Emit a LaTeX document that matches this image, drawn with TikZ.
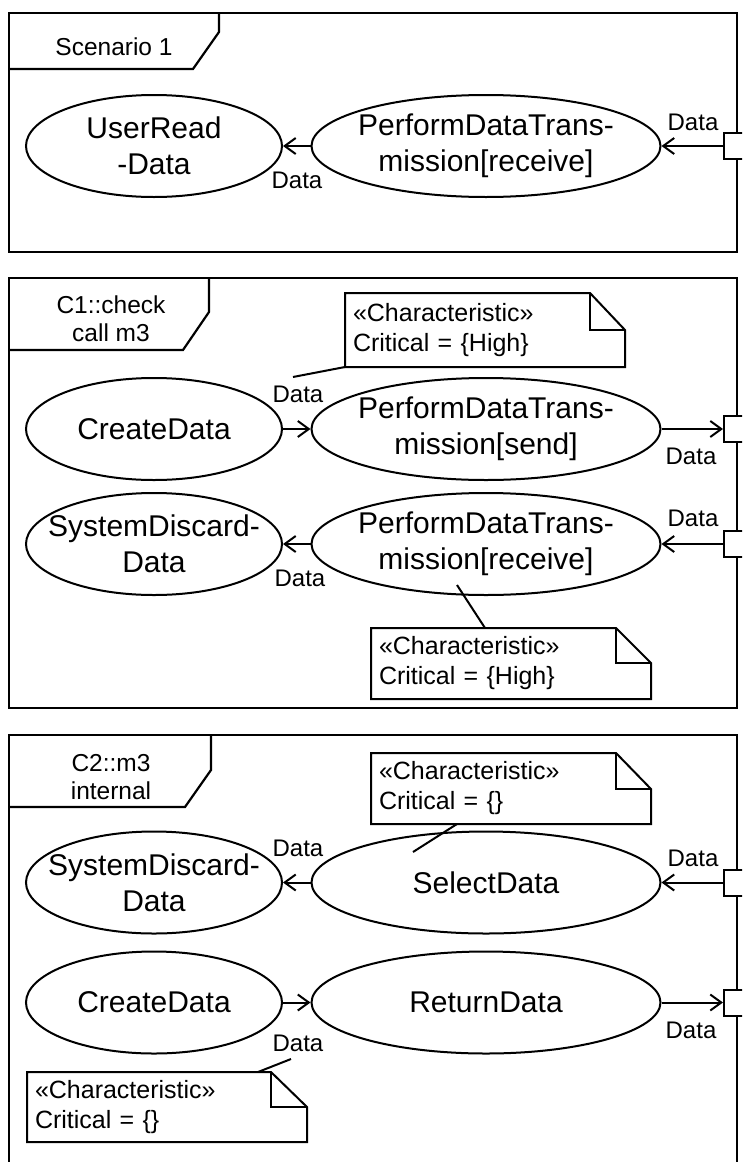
\documentclass[tikz,border=0pt]{standalone}
\usepackage{fontspec}
\setmainfont{Liberation Sans}
\usetikzlibrary{arrows.meta,calc,shapes.geometric}
\begin{document}
\begin{tikzpicture}[x=1pt,y=-1pt,line width=2pt,
  frm/.style={line width=2.2pt},
  uc/.style={ellipse,draw,line width=2pt,inner sep=0pt,minimum height=102pt,minimum width=#1},
  uctext/.style={inner sep=0pt,align=center,font=\fontsize{30}{36}\selectfont},
  tabtext/.style={inner sep=0pt,align=center,font=\fontsize{24.5}{28}\selectfont},
  lbl/.style={inner sep=0pt,font=\fontsize{24}{28}\selectfont},
  port/.style={rectangle,draw,fill=white,line width=2pt,minimum size=26pt,inner sep=0pt},
  arr/.style={-{Straight Barb[length=11pt,width=16pt]}},
  notebox/.style={rectangle,inner xsep=7pt,inner ysep=0pt,minimum width=278pt,text width=264pt,minimum height=#1,align=left,font=\fontsize{25}{30}\selectfont},
  fold/.style={line width=2pt}
]
\useasboundingbox (0,0) rectangle (742,1162);
\clip (0,0) rectangle (742,1162);

% ---------- Frame 1 ----------
\draw[frm] (9,13) rectangle (737,252);
\draw[frm] (9,69) -- (193,69) -- (219,32) -- (219,13);
\node[tabtext] (tab1) at (114,47) {Scenario 1};

\node[uc=256pt] (f1a) at (154,146) {};
\node[uctext] (f1aT) at (f1a) {UserRead\\-Data};
\node[uc=349pt] (f1b) at (486,146) {};
\node[uctext] (f1bT) at (f1b) {PerformDataTrans-\\mission[receive]};
\node[port] (f1p) at (737,146) {};
\draw[arr] (f1b) -- (f1a);
\draw[arr] (f1p) -- (f1b);
\node[lbl] (f1l1) at (297,180) {Data};
\node[lbl] (f1l2) at (693,122) {Data};

% ---------- Frame 2 ----------
\draw[frm] (9,278) rectangle (737,708);
\draw[frm] (9,350) -- (183,350) -- (209,312) -- (209,278);
\node[tabtext] (tab2) at (111,319) {C1::check\\call m3};

\node[uc=256pt] (f2a) at (154,429) {};
\node[uctext] (f2aT) at (f2a) {CreateData};
\node[uc=349pt] (f2b) at (486,429) {};
\node[uctext] (f2bT) at (f2b) {PerformDataTrans-\\mission[send]};
\node[port] (f2p1) at (737,429) {};
\draw[arr] (f2a) -- (f2b);
\draw[arr] (f2b) -- (f2p1);
\node[lbl] (f2l1) at (298,394) {Data};
\node[lbl] (f2l2) at (691,456) {Data};

\node[uc=256pt] (f2c) at (154,544) {};
\node[uctext] (f2cT) at (f2c) {SystemDiscard-\\Data};
\node[uc=349pt] (f2d) at (486,544) {};
\node[uctext] (f2dT) at (f2d) {PerformDataTrans-\\mission[receive]};
\node[port] (f2p2) at (737,544) {};
\draw[arr] (f2d) -- (f2c);
\draw[arr] (f2p2) -- (f2d);
\node[lbl] (f2l3) at (300,578) {Data};
\node[lbl] (f2l4) at (693,518) {Data};

% note 1 (frame 2 top)
\node[notebox=72pt,anchor=north west] (n1) at (345,293) {«Characteristic»\\Critical = \{High\}};
\draw[fold] (n1.south west) -- (n1.north west) -- ($(n1.north east)+(-35,0)$) -- ($(n1.north east)+(0,37)$) -- (n1.south east) -- cycle;
\draw[fold] ($(n1.north east)+(-35,0)$) -- ($(n1.north east)+(-35,37)$) -- ($(n1.north east)+(0,37)$);
\coordinate (n1e) at (293,377);
\draw (n1.south west) -- (n1e);

% note 2 (frame 2 bottom)
\node[notebox=69pt,anchor=north west] (n2) at (371,628) {«Characteristic»\\Critical = \{High\}};
\draw[fold] (n2.south west) -- (n2.north west) -- ($(n2.north east)+(-35,0)$) -- ($(n2.north east)+(0,35)$) -- (n2.south east) -- cycle;
\draw[fold] ($(n2.north east)+(-35,0)$) -- ($(n2.north east)+(-35,35)$) -- ($(n2.north east)+(0,35)$);
\coordinate (n2e) at (457,585);
\draw ($(n2.north west)+(114,0)$) -- (n2e);

% ---------- Frame 3 ----------
\draw[frm] (9,735) rectangle (737,1185);
\draw[frm] (9,807) -- (185,807) -- (211,770) -- (211,735);
\node[tabtext] (tab3) at (111,777) {C2::m3\\internal};

\node[uc=256pt] (f3a) at (154,882.5) {};
\node[uctext] (f3aT) at (f3a) {SystemDiscard-\\Data};
\node[uc=349pt] (f3b) at (486,882.5) {};
\node[uctext] (f3bT) at (f3b) {SelectData};
\node[port] (f3p1) at (737,882.5) {};
\draw[arr] (f3b) -- (f3a);
\draw[arr] (f3p1) -- (f3b);
\node[lbl] (f3l1) at (298,848) {Data};
\node[lbl] (f3l2) at (693,858) {Data};

\node[uc=256pt] (f3c) at (154,1002.5) {};
\node[uctext] (f3cT) at (f3c) {CreateData};
\node[uc=349pt] (f3d) at (486,1002.5) {};
\node[uctext] (f3dT) at (f3d) {ReturnData};
\node[port] (f3p2) at (737,1002.5) {};
\draw[arr] (f3c) -- (f3d);
\draw[arr] (f3d) -- (f3p2);
\node[lbl] (f3l3) at (298,1043) {Data};
\node[lbl] (f3l4) at (691,1030) {Data};

% note 3 (frame 3 top)
\node[notebox=69pt,anchor=north west] (n3) at (371,753) {«Characteristic»\\Critical = \{\}};
\draw[fold] (n3.south west) -- (n3.north west) -- ($(n3.north east)+(-35,0)$) -- ($(n3.north east)+(0,36)$) -- (n3.south east) -- cycle;
\draw[fold] ($(n3.north east)+(-35,0)$) -- ($(n3.north east)+(-35,36)$) -- ($(n3.north east)+(0,36)$);
\coordinate (n3e) at (413,852);
\draw ($(n3.south west)+(86,0)$) -- (n3e);

% note 4 (frame 3 bottom)
\node[notebox=68pt,anchor=north west] (n4) at (27,1072) {«Characteristic»\\Critical = \{\}};
\draw[fold] (n4.south west) -- (n4.north west) -- ($(n4.north east)+(-36,0)$) -- ($(n4.north east)+(0,35)$) -- (n4.south east) -- cycle;
\draw[fold] ($(n4.north east)+(-36,0)$) -- ($(n4.north east)+(-36,35)$) -- ($(n4.north east)+(0,35)$);
\coordinate (n4e) at (291,1059);
\draw ($(n4.north west)+(231,0)$) -- (n4e);
\end{tikzpicture}
\end{document}
